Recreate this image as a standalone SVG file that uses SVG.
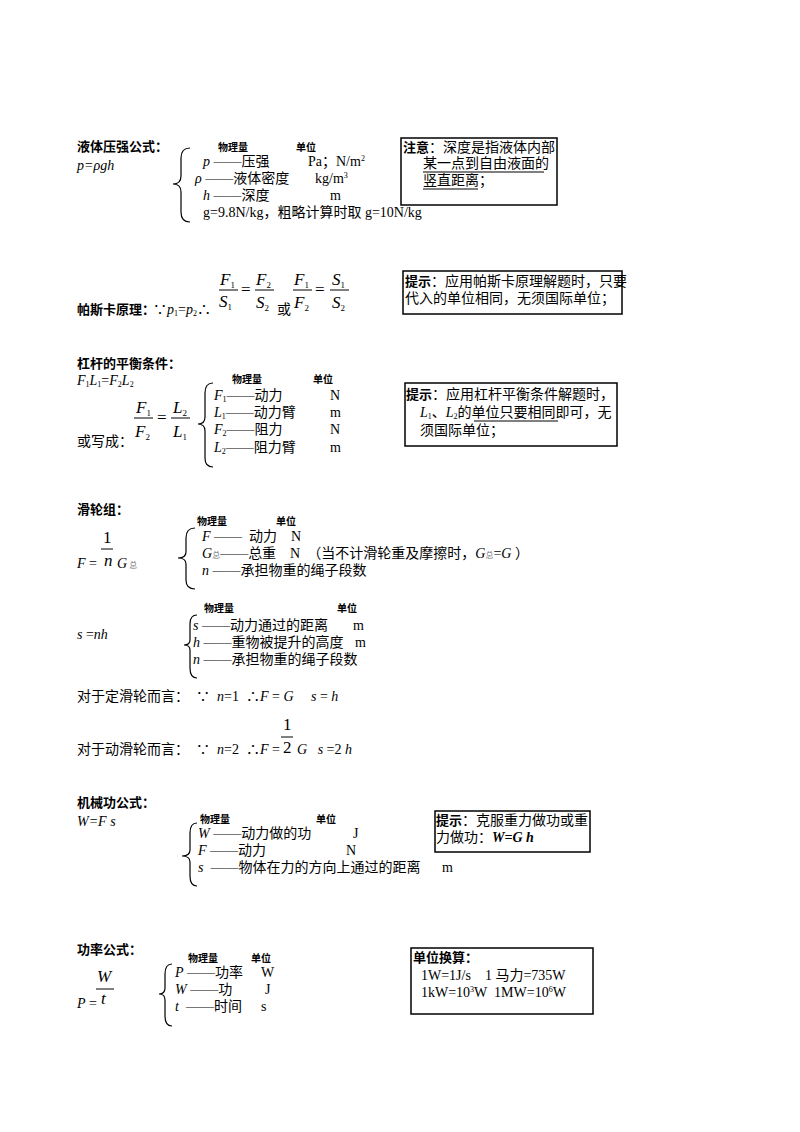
<svg xmlns="http://www.w3.org/2000/svg" width="800" height="1132" viewBox="0 0 800 1132" xml:space="preserve">
<style>
text{font-family:"Liberation Serif","Noto Sans CJK SC",serif;font-size:14px;fill:#000;white-space:pre}
.h{font-family:"Noto Sans CJK SC","Liberation Sans",sans-serif;font-weight:bold;font-size:13px}
.sm{font-family:"Noto Sans CJK SC",sans-serif;font-weight:bold;font-size:10px}
.i{font-style:italic}
.f{font-size:17px}
.box{fill:none;stroke:#000;stroke-width:1.5}
.br{fill:none;stroke:#000;stroke-width:1.2}
.ln{stroke:#000;stroke-width:1}
</style>
<rect width="800" height="1132" fill="#fff"/>
<g id="s1">
<text x="77" y="151" class="h">液体压强公式：</text>
<text x="77" y="170" class="i">p=ρgh</text>
<text x="218" y="151" class="sm">物理量</text><text x="296" y="151" class="sm">单位</text>
<path class="br" d="M190,148 Q181,148 181,158 L181,176 Q181,184 173,184 Q181,184 181,192 L181,212 Q181,222 190,222"/>
<text x="203" y="166"><tspan class="i">p</tspan> ——压强</text><text x="308" y="166">Pa；N/m<tspan font-size="8" dy="-5">2</tspan></text>
<text x="195" y="183"><tspan class="i">ρ</tspan> ——液体密度</text><text x="315" y="183">kg/m<tspan font-size="8" dy="-5">3</tspan></text>
<text x="203" y="200"><tspan class="i">h</tspan> ——深度</text><text x="330" y="200">m</text>
<text x="203" y="217">g=9.8N/kg，粗略计算时取 g=10N/kg</text>
</g>
<g id="note1">
<rect class="box" x="401" y="138" width="156" height="67"/>
<text x="403" y="152"><tspan class="h">注意</tspan>：深度是指液体内部</text>
<text x="423" y="168">某一点到自由液面的</text>
<text x="423" y="185">竖直距离；</text>
<line class="ln" x1="423" y1="172" x2="544" y2="172"/>
<line class="ln" x1="423" y1="189" x2="478" y2="189"/>
</g>
<g id="s2">
<text x="77" y="314" class="h">帕斯卡原理：</text>
<text x="153" y="314">∵<tspan class="i">p</tspan><tspan font-size="8" dy="2">1</tspan><tspan dy="-2">=</tspan><tspan class="i">p</tspan><tspan font-size="8" dy="2">2</tspan><tspan dy="-2">∴</tspan></text>
<text x="220" y="285" class="i f">F<tspan font-size="9" dy="3" font-style="normal">1</tspan></text>
<line class="ln" x1="219" y1="290" x2="238" y2="290"/>
<text x="219" y="307" class="i f">S<tspan font-size="9" dy="3" font-style="normal">1</tspan></text>
<text x="241" y="295" class="f">=</text>
<text x="256" y="285" class="i f">F<tspan font-size="9" dy="3" font-style="normal">2</tspan></text>
<line class="ln" x1="255" y1="290" x2="274" y2="290"/>
<text x="256" y="308" class="i f">S<tspan font-size="9" dy="3" font-style="normal">2</tspan></text>
<text x="277" y="314">或</text>
<text x="294" y="285" class="i f">F<tspan font-size="9" dy="3" font-style="normal">1</tspan></text>
<line class="ln" x1="293" y1="290" x2="312" y2="290"/>
<text x="294" y="308" class="i f">F<tspan font-size="9" dy="3" font-style="normal">2</tspan></text>
<text x="315" y="295" class="f">=</text>
<text x="332" y="285" class="i f">S<tspan font-size="9" dy="3" font-style="normal">1</tspan></text>
<line class="ln" x1="330" y1="290" x2="349" y2="290"/>
<text x="332" y="308" class="i f">S<tspan font-size="9" dy="3" font-style="normal">2</tspan></text>
</g>
<g id="note2">
<rect class="box" x="403" y="271" width="219" height="43"/>
<text x="405" y="286"><tspan class="h">提示</tspan>：应用帕斯卡原理解题时，只要</text>
<text x="405" y="303">代入的单位相同，无须国际单位；</text>
</g>
<g id="s3">
<text x="77" y="368" class="h">杠杆的平衡条件：</text>
<text x="77" y="385" class="i">F<tspan font-size="8" dy="2" font-style="normal">1</tspan><tspan dy="-2">L</tspan><tspan font-size="8" dy="2" font-style="normal">1</tspan><tspan dy="-2" font-style="normal">=</tspan><tspan>F</tspan><tspan font-size="8" dy="2" font-style="normal">2</tspan><tspan dy="-2">L</tspan><tspan font-size="8" dy="2" font-style="normal">2</tspan></text>
<text x="136" y="413" class="i f">F<tspan font-size="9" dy="3" font-style="normal">1</tspan></text>
<line class="ln" x1="134" y1="418" x2="153" y2="418"/>
<text x="135" y="437" class="i f">F<tspan font-size="9" dy="3" font-style="normal">2</tspan></text>
<text x="157" y="423" class="f">=</text>
<text x="173" y="413" class="i f">L<tspan font-size="9" dy="3" font-style="normal">2</tspan></text>
<line class="ln" x1="171" y1="418" x2="190" y2="418"/>
<text x="173" y="437" class="i f">L<tspan font-size="9" dy="3" font-style="normal">1</tspan></text>
<text x="77" y="446">或写成：</text>
<text x="232" y="383" class="sm">物理量</text><text x="313" y="383" class="sm">单位</text>
<path class="br" d="M213,383 Q205,383 205,393 L205,417 Q205,424 198,424 Q205,424 205,431 L205,458 Q205,467 213,467"/>
<text x="214" y="400" class="i">F<tspan font-size="8" dy="2" font-style="normal">1</tspan><tspan dy="-2" font-style="normal">——动力</tspan></text><text x="330" y="400">N</text>
<text x="214" y="417" class="i">L<tspan font-size="8" dy="2" font-style="normal">1</tspan><tspan dy="-2" font-style="normal">——动力臂</tspan></text><text x="330" y="417">m</text>
<text x="214" y="434" class="i">F<tspan font-size="8" dy="2" font-style="normal">2</tspan><tspan dy="-2" font-style="normal">——阻力</tspan></text><text x="330" y="434">N</text>
<text x="214" y="452" class="i">L<tspan font-size="8" dy="2" font-style="normal">2</tspan><tspan dy="-2" font-style="normal">——阻力臂</tspan></text><text x="330" y="452">m</text>
</g>
<g id="note3">
<rect class="box" x="405" y="383" width="212" height="63"/>
<text x="406" y="399"><tspan class="h">提示</tspan>：应用杠杆平衡条件解题时，</text>
<text x="420" y="417"><tspan class="i">L</tspan><tspan font-size="8" dy="2">1</tspan><tspan dy="-2">、</tspan><tspan class="i">L</tspan><tspan font-size="8" dy="2">2</tspan><tspan dy="-2">的单位只要相同即可，无</tspan></text>
<line class="ln" x1="474" y1="421" x2="558" y2="421"/>
<text x="420" y="435">须国际单位；</text>
</g>
<g id="s4">
<text x="77" y="514" class="h">滑轮组：</text>
<text x="197" y="525" class="sm">物理量</text><text x="276" y="525" class="sm">单位</text>
<text x="103" y="543" class="f">1</text>
<line class="ln" x1="101" y1="549" x2="113" y2="549"/>
<text x="104" y="566" class="i f">n</text>
<text x="77" y="568"><tspan class="i">F</tspan> =</text>
<text x="117" y="568" class="i">G<tspan font-size="8" font-style="normal" fill="#777" dx="2">总</tspan></text>
<path class="br" d="M195,528 Q186,528 186,538 L186,552 Q186,558 178,558 Q186,558 186,564 L186,580 Q186,589 195,589"/>
<text x="202" y="541"><tspan class="i">F</tspan> ——  动力    N</text>
<text x="202" y="558"><tspan class="i">G</tspan><tspan font-size="8" fill="#777">总</tspan>——总重    N  （当不计滑轮重及摩擦时，<tspan class="i">G</tspan><tspan font-size="8" fill="#777">总</tspan>=<tspan class="i">G</tspan> ）</text>
<text x="202" y="575"><tspan class="i">n</tspan> ——承担物重的绳子段数</text>
<text x="204" y="612" class="sm">物理量</text><text x="337" y="612" class="sm">单位</text>
<text x="77" y="639" class="i">s <tspan font-style="normal">=</tspan>nh</text>
<path class="br" d="M197,615 Q190,615 190,624 L190,640 Q190,645 184,645 Q190,645 190,650 L190,668 Q190,678 197,678"/>
<text x="193" y="630"><tspan class="i">s</tspan> ——动力通过的距离</text><text x="353" y="630">m</text>
<text x="193" y="647"><tspan class="i">h</tspan> ——重物被提升的高度</text><text x="355" y="647">m</text>
<text x="193" y="664"><tspan class="i">n</tspan> ——承担物重的绳子段数</text>
<text x="77" y="701">对于定滑轮而言：  ∵  <tspan class="i">n</tspan>=1  ∴<tspan class="i">F</tspan> = <tspan class="i">G</tspan>     <tspan class="i">s</tspan> = <tspan class="i">h</tspan></text>
<text x="283" y="730" class="f">1</text>
<line class="ln" x1="281" y1="737" x2="293" y2="737"/>
<text x="77" y="754">对于动滑轮而言：  ∵  <tspan class="i">n</tspan>=2  ∴<tspan class="i">F</tspan> = </text>
<text x="283" y="753" class="f">2</text>
<text x="297" y="754"><tspan class="i">G</tspan>   <tspan class="i">s</tspan> =2 <tspan class="i">h</tspan></text>
</g>
<g id="s5">
<text x="77" y="807" class="h">机械功公式：</text>
<text x="77" y="826" class="i">W=F s</text>
<text x="200" y="823" class="sm">物理量</text><text x="316" y="823" class="sm">单位</text>
<path class="br" d="M197,823 Q190,823 190,833 L190,850 Q190,856 182,856 Q190,856 190,862 L190,876 Q190,886 197,886"/>
<text x="198" y="838"><tspan class="i">W</tspan> ——动力做的功</text><text x="353" y="838">J</text>
<text x="198" y="855"><tspan class="i">F</tspan> ——动力</text><text x="346" y="855">N</text>
<text x="198" y="872"><tspan class="i">s</tspan>  ——物体在力的方向上通过的距离</text><text x="442" y="872">m</text>
</g>
<g id="note4">
<rect class="box" x="435" y="811" width="155" height="41"/>
<text x="436" y="825"><tspan class="h">提示</tspan>：克服重力做功或重</text>
<text x="436" y="842">力做功：<tspan font-weight="bold" font-style="italic">W=G h</tspan></text>
</g>
<g id="s6">
<text x="77" y="954" class="h">功率公式：</text>
<text x="97" y="982" class="i f">W</text>
<line class="ln" x1="96" y1="989" x2="114" y2="989"/>
<text x="101" y="1004" class="i f">t</text>
<text x="77" y="1008"><tspan class="i">P</tspan> =</text>
<text x="188" y="962" class="sm">物理量</text><text x="251" y="962" class="sm">单位</text>
<path class="br" d="M172,964 Q165,964 165,974 L165,988 Q165,994 159,994 Q165,994 165,1000 L165,1016 Q165,1026 172,1026"/>
<text x="175" y="977"><tspan class="i">P</tspan> ——功率</text><text x="261" y="977">W</text>
<text x="175" y="994"><tspan class="i">W</tspan> ——功</text><text x="265" y="994">J</text>
<text x="175" y="1011"><tspan class="i">t</tspan>  ——时间</text><text x="261" y="1011">s</text>
</g>
<g id="note5">
<rect class="box" x="411" y="948" width="182" height="66"/>
<text x="413" y="962" class="h">单位换算：</text>
<text x="421" y="980">1W=1J/s    1 马力=735W</text>
<text x="421" y="997">1kW=10<tspan font-size="8" dy="-5">3</tspan><tspan dy="5">W  1MW=10</tspan><tspan font-size="8" dy="-5">6</tspan><tspan dy="5">W</tspan></text>
</g>
</svg>
